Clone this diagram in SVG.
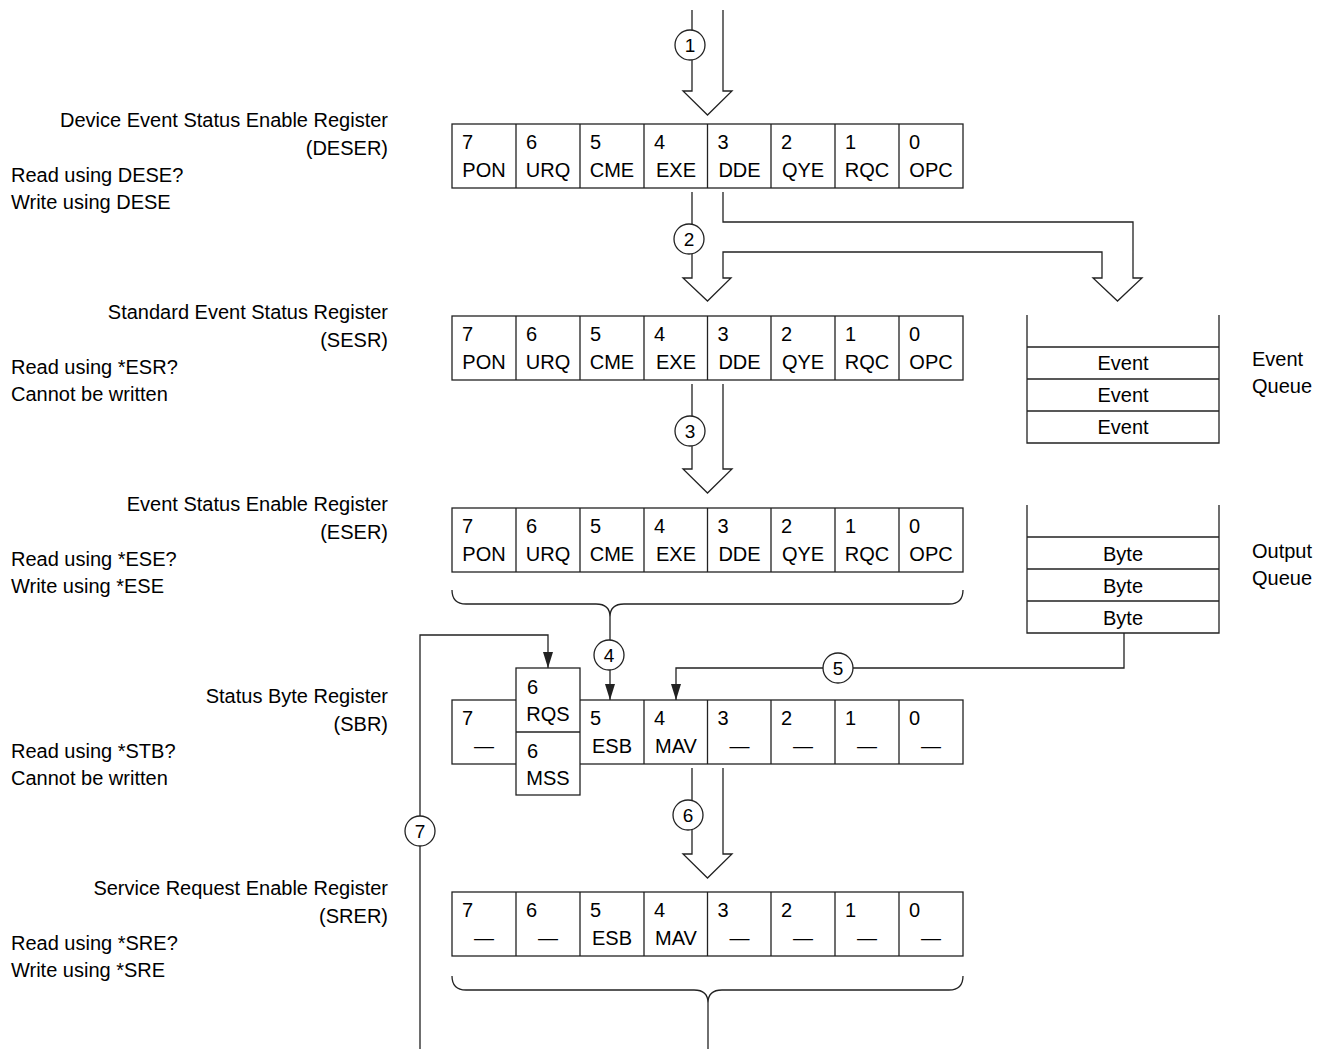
<svg xmlns="http://www.w3.org/2000/svg" width="1320" height="1049" viewBox="0 0 1320 1049">
<style>
text{font-family:"Liberation Sans",Arial,sans-serif;font-size:20px;fill:#000}
.r{text-anchor:end}
.m{text-anchor:middle}
.box{fill:#fff;stroke:#222;stroke-width:1.3}
.ln{fill:none;stroke:#222;stroke-width:1.3}
.circ{fill:#fff;stroke:#222;stroke-width:1.3}
.cn{font-size:19px;text-anchor:middle}
</style>
<defs>
<marker id="ah" viewBox="0 0 16 10" refX="16" refY="5" markerWidth="16" markerHeight="10" markerUnits="userSpaceOnUse" orient="auto">
<path d="M0,0 L16,5 L0,10 Z" fill="#222"/>
</marker>
<g id="cells8">
<rect class="box" x="452" y="0" width="511" height="64"/>
<path class="ln" d="M516,0V64M580,0V64M644,0V64M707.5,0V64M771,0V64M835,0V64M899,0V64"/>
</g>
</defs>

<!-- Labels -->
<g id="labels">
<text class="r" x="388" y="127">Device Event Status Enable Register</text>
<text class="r" x="388" y="155">(DESER)</text>
<text x="11" y="182">Read using DESE?</text>
<text x="11" y="209">Write using DESE</text>

<text class="r" x="388" y="319">Standard Event Status Register</text>
<text class="r" x="388" y="347">(SESR)</text>
<text x="11" y="374">Read using *ESR?</text>
<text x="11" y="401">Cannot be written</text>

<text class="r" x="388" y="511">Event Status Enable Register</text>
<text class="r" x="388" y="539">(ESER)</text>
<text x="11" y="566">Read using *ESE?</text>
<text x="11" y="593">Write using *ESE</text>

<text class="r" x="388" y="703">Status Byte Register</text>
<text class="r" x="388" y="731">(SBR)</text>
<text x="11" y="758">Read using *STB?</text>
<text x="11" y="785">Cannot be written</text>

<text class="r" x="388" y="895">Service Request Enable Register</text>
<text class="r" x="388" y="923">(SRER)</text>
<text x="11" y="950">Read using *SRE?</text>
<text x="11" y="977">Write using *SRE</text>
</g>

<!-- DESER -->
<g id="deser">
<use href="#cells8" y="124"/>
<text x="462" y="149">7</text><text x="526" y="149">6</text><text x="590" y="149">5</text><text x="654" y="149">4</text><text x="717.5" y="149">3</text><text x="781" y="149">2</text><text x="845" y="149">1</text><text x="909" y="149">0</text>
<text class="m" x="484" y="177">PON</text><text class="m" x="548" y="177">URQ</text><text class="m" x="612" y="177">CME</text><text class="m" x="676" y="177">EXE</text><text class="m" x="739.5" y="177">DDE</text><text class="m" x="803" y="177">QYE</text><text class="m" x="867" y="177">RQC</text><text class="m" x="931" y="177">OPC</text>
</g>

<!-- SESR -->
<g id="sesr">
<use href="#cells8" y="316"/>
<text x="462" y="341">7</text><text x="526" y="341">6</text><text x="590" y="341">5</text><text x="654" y="341">4</text><text x="717.5" y="341">3</text><text x="781" y="341">2</text><text x="845" y="341">1</text><text x="909" y="341">0</text>
<text class="m" x="484" y="369">PON</text><text class="m" x="548" y="369">URQ</text><text class="m" x="612" y="369">CME</text><text class="m" x="676" y="369">EXE</text><text class="m" x="739.5" y="369">DDE</text><text class="m" x="803" y="369">QYE</text><text class="m" x="867" y="369">RQC</text><text class="m" x="931" y="369">OPC</text>
</g>

<!-- ESER -->
<g id="eser">
<use href="#cells8" y="508"/>
<text x="462" y="533">7</text><text x="526" y="533">6</text><text x="590" y="533">5</text><text x="654" y="533">4</text><text x="717.5" y="533">3</text><text x="781" y="533">2</text><text x="845" y="533">1</text><text x="909" y="533">0</text>
<text class="m" x="484" y="561">PON</text><text class="m" x="548" y="561">URQ</text><text class="m" x="612" y="561">CME</text><text class="m" x="676" y="561">EXE</text><text class="m" x="739.5" y="561">DDE</text><text class="m" x="803" y="561">QYE</text><text class="m" x="867" y="561">RQC</text><text class="m" x="931" y="561">OPC</text>
</g>

<!-- SBR -->
<g id="sbr">
<rect class="box" x="452" y="700" width="511" height="64"/>
<path class="ln" d="M644,700V764M707.5,700V764M771,700V764M835,700V764M899,700V764"/>
<rect class="box" x="516" y="668" width="64" height="127"/>
<path class="ln" d="M516,732H580"/>
<text x="462" y="725">7</text><text class="m" x="484" y="753">—</text>
<text x="527" y="694">6</text><text class="m" x="548" y="721">RQS</text>
<text x="527" y="758">6</text><text class="m" x="548" y="785">MSS</text>
<text x="590" y="725">5</text><text class="m" x="612" y="753">ESB</text>
<text x="654" y="725">4</text><text class="m" x="676" y="753">MAV</text>
<text x="717.5" y="725">3</text><text class="m" x="739.5" y="753">—</text>
<text x="781" y="725">2</text><text class="m" x="803" y="753">—</text>
<text x="845" y="725">1</text><text class="m" x="867" y="753">—</text>
<text x="909" y="725">0</text><text class="m" x="931" y="753">—</text>
</g>

<!-- SRER -->
<g id="srer">
<use href="#cells8" y="892"/>
<text x="462" y="917">7</text><text x="526" y="917">6</text><text x="590" y="917">5</text><text x="654" y="917">4</text><text x="717.5" y="917">3</text><text x="781" y="917">2</text><text x="845" y="917">1</text><text x="909" y="917">0</text>
<text class="m" x="484" y="945">—</text><text class="m" x="548" y="945">—</text><text class="m" x="612" y="945">ESB</text><text class="m" x="676" y="945">MAV</text><text class="m" x="739.5" y="945">—</text><text class="m" x="803" y="945">—</text><text class="m" x="867" y="945">—</text><text class="m" x="931" y="945">—</text>
</g>

<!-- Event Queue -->
<g id="event-queue">
<path class="ln" d="M1027,315V443H1219V315M1027,347H1219M1027,379H1219M1027,411H1219"/>
<text class="m" x="1123" y="370">Event</text>
<text class="m" x="1123" y="402">Event</text>
<text class="m" x="1123" y="434">Event</text>
<text x="1252" y="366">Event</text>
<text x="1252" y="393">Queue</text>
</g>

<!-- Output Queue -->
<g id="output-queue">
<path class="ln" d="M1027,505V633H1219V505M1027,537H1219M1027,569H1219M1027,601H1219"/>
<text class="m" x="1123" y="561">Byte</text>
<text class="m" x="1123" y="593">Byte</text>
<text class="m" x="1123" y="625">Byte</text>
<text x="1252" y="558">Output</text>
<text x="1252" y="585">Queue</text>
</g>

<!-- Connectors -->
<g id="connectors">
<!-- 1 -->
<path class="ln" d="M692,10V91H683L707.5,115L732,91H723V10"/>
<!-- 2 -->
<path class="ln" d="M692,192V278H683L707.5,301L731,278H723V252H1102V278H1093L1117.5,301L1142,278H1133V222H723V192"/>
<!-- 3 -->
<path class="ln" d="M692,384V469H683L707.5,493L732,469H723V384"/>
<!-- 6 -->
<path class="ln" d="M692,768V854H683L707.5,878L732,854H723V768"/>
<!-- ESER brace -> 4 -->
<path class="ln" d="M452,590Q452,604 466,604H596Q610,604 610,617Q610,604 624,604H949Q963,604 963,590"/>
<path class="ln" d="M610,617V700" marker-end="url(#ah)"/>
<!-- 5 -->
<path class="ln" d="M1124,633V668H676V700" marker-end="url(#ah)"/>
<!-- 7 -->
<path class="ln" d="M420,1049V635H548V668" marker-end="url(#ah)"/>
<!-- SRER brace -->
<path class="ln" d="M452,976Q452,990 466,990H694Q708,990 708,1003Q708,990 722,990H949Q963,990 963,976"/>
<path class="ln" d="M708,1003V1049"/>
<!-- circles -->
<circle class="circ" cx="690" cy="45" r="15"/><text class="cn" x="690" y="52">1</text>
<circle class="circ" cx="689" cy="239" r="15"/><text class="cn" x="689" y="246">2</text>
<circle class="circ" cx="690" cy="431" r="15"/><text class="cn" x="690" y="438">3</text>
<circle class="circ" cx="609" cy="655" r="15"/><text class="cn" x="609" y="662">4</text>
<circle class="circ" cx="838" cy="668" r="15"/><text class="cn" x="838" y="675">5</text>
<circle class="circ" cx="688" cy="815" r="15"/><text class="cn" x="688" y="822">6</text>
<circle class="circ" cx="420" cy="831" r="15"/><text class="cn" x="420" y="838">7</text>
</g>
</svg>
